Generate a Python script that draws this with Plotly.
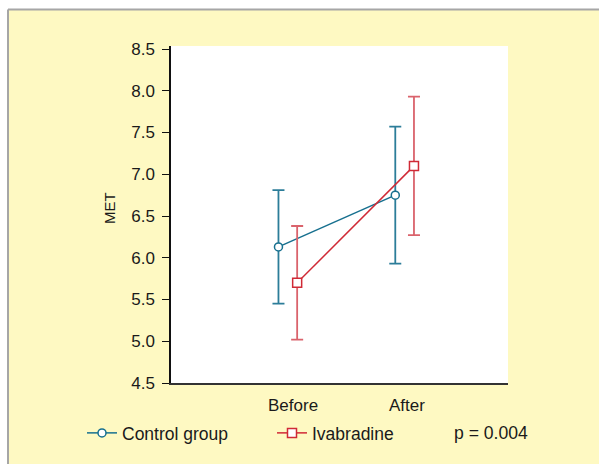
import plotly.graph_objects as go

# ---- data ----
groups = ["Control group", "Ivabradine"]
timepoints = ["Before", "After"]
control_mean = [6.13, 6.75]
control_err = [0.68, 0.82]
ivabradine_mean = [5.70, 7.10]
ivabradine_err = [0.68, 0.83]
p_text = "p = 0.004"
y_ticks = [4.5, 5.0, 5.5, 6.0, 6.5, 7.0, 7.5, 8.0, 8.5]

W, H = 599, 464
L, R, T, B = 171, 91, 46, 81
PW, PH = W - L - R, H - T - B


def px(x):
    return (x - L) / PW


def py(y):
    return (H - B - y) / PH


FONT = "Liberation Sans, Arial, sans-serif"
TEAL = "#17708f"
TEAL_ERR = "#2c7d99"
RED = "#d02a36"
RED_ERR = "#da636c"

xpos = [1, 2]
off = 0.08

fig = go.Figure()
fig.add_trace(go.Scatter(
    x=[v - off for v in xpos], y=control_mean, name=groups[0],
    mode="lines+markers",
    line=dict(color=TEAL, width=1.5),
    marker=dict(symbol="circle", size=8, color="white", line=dict(color=TEAL, width=1.5)),
    error_y=dict(type="data", array=control_err, visible=True, color=TEAL_ERR, thickness=1.8, width=6),
    legend="legend",
))
fig.add_trace(go.Scatter(
    x=[v + off for v in xpos], y=ivabradine_mean, name=groups[1],
    mode="lines+markers",
    line=dict(color=RED, width=1.5),
    marker=dict(symbol="square", size=9, color="white", line=dict(color=RED, width=1.5)),
    error_y=dict(type="data", array=ivabradine_err, visible=True, color=RED_ERR, thickness=1.8, width=6),
    legend="legend2",
))

shapes = [
    # white margins outside the yellow panel
    dict(type="rect", xref="paper", yref="paper", x0=px(-5), x1=px(W + 5), y0=py(9.5), y1=py(-5),
         fillcolor="white", line=dict(width=0), layer="below"),
    dict(type="rect", xref="paper", yref="paper", x0=px(-5), x1=px(8), y0=py(H + 5), y1=py(-5),
         fillcolor="white", line=dict(width=0), layer="below"),
    # grey border lines
    dict(type="line", xref="paper", yref="paper", x0=px(8), x1=px(W + 5), y0=py(9.5), y1=py(9.5),
         line=dict(color="#a6a6a6", width=2)),
    dict(type="line", xref="paper", yref="paper", x0=px(8), x1=px(8), y0=py(9.5), y1=py(H + 5),
         line=dict(color="#a6a6a6", width=2)),
]

annotations = [
    dict(text="MET", textangle=-90, xref="paper", yref="paper", x=px(110), y=py(208),
         showarrow=False, font=dict(family=FONT, size=15, color="#1a1a1a"),
         xanchor="center", yanchor="middle"),
    dict(text=p_text, xref="paper", yref="paper", x=px(452), y=py(433),
         showarrow=False, font=dict(family=FONT, size=17.6, color="#1a1a1a"),
         xanchor="left", yanchor="middle"),
]

fig.update_layout(
    width=W, height=H,
    margin=dict(l=L, r=R, t=T, b=B, pad=0),
    paper_bgcolor="#fef9c2",
    plot_bgcolor="white",
    font=dict(family=FONT, size=17, color="#1a1a1a"),
    shapes=shapes,
    annotations=annotations,
    showlegend=True,
    legend=dict(orientation="h", x=px(82), y=py(433), xanchor="left", yanchor="middle",
                bgcolor="rgba(0,0,0,0)", font=dict(family=FONT, size=17.5, color="#1a1a1a")),
    legend2=dict(orientation="h", x=px(272), y=py(433), xanchor="left", yanchor="middle",
                 bgcolor="rgba(0,0,0,0)", font=dict(family=FONT, size=17.5, color="#1a1a1a")),
    xaxis=dict(range=[0, 2.885], showline=True, linecolor="#333333", linewidth=1.5,
               ticks="", showgrid=False, zeroline=False,
               tickvals=[1.045, 2.02], ticktext=timepoints,
               ticklabelstandoff=6,
               tickfont=dict(family=FONT, size=17, color="#1a1a1a")),
    yaxis=dict(range=[4.5, 8.536], showline=True, linecolor="#111111", linewidth=1.5,
               ticks="outside", ticklen=7, tickwidth=1.2, tickcolor="#111111",
               tickvals=y_ticks, ticktext=[f"{v:.1f}" for v in y_ticks],
               showgrid=False, zeroline=False, ticklabelstandoff=4,
               tickfont=dict(family=FONT, size=17, color="#1a1a1a")),
)

fig.write_html(
    "out.html",
    config={"displayModeBar": False},
    post_script="document.body.style.margin='0';document.body.style.padding='0';"
                "document.documentElement.style.overflow='hidden';document.body.style.overflow='hidden';",
)
